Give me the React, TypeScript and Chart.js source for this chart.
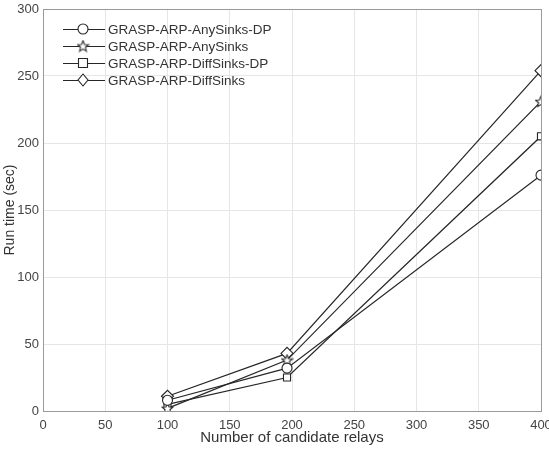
import React, { useEffect, useRef } from "react";
import { Chart, registerables } from "chart.js";

Chart.register(...registerables);

const relays = [100, 196, 400];
const anySinksDP = [8, 32, 176];
const anySinks = [2, 38, 231];
const diffSinksDP = [5, 25, 205];
const diffSinks = [11, 43, 254];
const seriesLabels = [
  "GRASP-ARP-AnySinks-DP",
  "GRASP-ARP-AnySinks",
  "GRASP-ARP-DiffSinks-DP",
  "GRASP-ARP-DiffSinks",
];
const xTicksMax = 400;
const yTicksMax = 300;

const FONT = "'Liberation Sans', Arial, sans-serif";
const LINE = "#262626";

function makeStar(size: number) {
  const c = document.createElement("canvas");
  c.width = size;
  c.height = size;
  const ctx = c.getContext("2d")!;
  const cx = size / 2;
  const cy = size / 2 + 0.5;
  const R = size / 2 - 0.8;
  const r = R * 0.45;
  ctx.beginPath();
  for (let i = 0; i < 10; i++) {
    const a = -Math.PI / 2 + (i * Math.PI) / 5;
    const rr = i % 2 === 0 ? R : r;
    const px = cx + rr * Math.cos(a);
    const py = cy + rr * Math.sin(a);
    if (i === 0) ctx.moveTo(px, py);
    else ctx.lineTo(px, py);
  }
  ctx.closePath();
  ctx.fillStyle = "#fff";
  ctx.fill();
  ctx.strokeStyle = LINE;
  ctx.lineWidth = 1.1;
  ctx.stroke();
  return c;
}

export default function App() {
  const ref = useRef<HTMLCanvasElement | null>(null);
  useEffect(() => {
    if (!ref.current) return;
    const star = makeStar(13);
    const styles: any[] = ["circle", star, "rect", "rectRot"];
    const values = [anySinksDP, anySinks, diffSinksDP, diffSinks];

    const framePlugin = {
      id: "frame",
      beforeDatasetsDraw(chart: any) {
        const { ctx, chartArea: a } = chart;
        ctx.save();
        ctx.strokeStyle = "#9a9a9a";
        ctx.lineWidth = 1;
        ctx.strokeRect(a.left + 0.5, a.top + 0.5, a.right - a.left, a.bottom - a.top);
        ctx.restore();
      },
    };

    const legendPlugin = {
      id: "inLegend",
      afterDraw(chart: any) {
        const { ctx } = chart;
        ctx.save();
        chart.data.datasets.forEach((ds: any, i: number) => {
          const y = 29 + i * 17;
          ctx.strokeStyle = LINE;
          ctx.lineWidth = 1.1;
          ctx.beginPath();
          ctx.moveTo(63, y + 0.5);
          ctx.lineTo(105, y + 0.5);
          ctx.stroke();
          const mx = 83;
          const st = styles[i];
          ctx.fillStyle = "#fff";
          ctx.beginPath();
          if (st === "circle") {
            ctx.arc(mx, y, 5, 0, Math.PI * 2);
            ctx.fill();
            ctx.stroke();
          } else if (st === "rect") {
            ctx.rect(mx - 4.5, y - 4.5, 9, 9);
            ctx.fill();
            ctx.stroke();
          } else if (st === "rectRot") {
            ctx.moveTo(mx, y - 6);
            ctx.lineTo(mx + 5, y);
            ctx.lineTo(mx, y + 6);
            ctx.lineTo(mx - 5, y);
            ctx.closePath();
            ctx.fill();
            ctx.stroke();
          } else {
            ctx.drawImage(st, mx - st.width / 2, y - st.height / 2);
          }
          ctx.fillStyle = "#333";
          ctx.font = `13.5px ${FONT}`;
          ctx.textBaseline = "middle";
          ctx.textAlign = "left";
          ctx.fillText(ds.label, 108, y + 1);
        });
        ctx.restore();
      },
    };

    const chart = new Chart(ref.current, {
      type: "line",
      data: {
        datasets: seriesLabels.map((label, i) => ({
          label,
          data: relays.map((x, j) => ({ x, y: values[i][j] })),
          borderColor: LINE,
          borderWidth: 1.2,
          backgroundColor: "#fff",
          pointStyle: styles[i],
          pointRadius: i === 3 ? 6 : 5,
          pointBorderColor: LINE,
          pointBackgroundColor: "#fff",
          pointBorderWidth: 1.1,
          tension: 0,
        })),
      },
      options: {
        animation: false,
        responsive: false,
        layout: { padding: { top: 9, right: 8, left: 0, bottom: 0 }, autoPadding: false } as any,
        plugins: { legend: { display: false }, tooltip: { enabled: false } },
        scales: {
          x: {
            type: "linear",
            min: 0,
            max: xTicksMax,
            ticks: { stepSize: 50, color: "#444", font: { family: FONT, size: 13 }, padding: 7, maxRotation: 0 },
            grid: { color: "#e6e6e6", drawTicks: false },
            border: { color: "#9a9a9a" },
            title: { display: true, text: "Number of candidate relays", color: "#333", font: { family: FONT, size: 15 }, padding: { top: 0, bottom: 6 } },
            afterFit: (s: any) => { s.height = 42; s.paddingLeft = 0; s.paddingRight = 0; },
          },
          y: {
            min: 0,
            max: yTicksMax,
            ticks: { stepSize: 50, color: "#444", font: { family: FONT, size: 13 }, padding: 4 },
            grid: { color: "#e6e6e6", drawTicks: false },
            border: { color: "#9a9a9a" },
            title: { display: true, text: "Run time (sec)", color: "#333", font: { family: FONT, size: 14 }, padding: { top: 2, bottom: 0 } },
            afterFit: (s: any) => { s.width = 43; s.paddingTop = 0; s.paddingBottom = 0; },
          },
        },
      },
      plugins: [framePlugin, legendPlugin],
    });
    return () => chart.destroy();
  }, []);

  return (
    <div style={{ position: "fixed", left: 0, top: 0, width: 549, height: 453, background: "#fff" }}>
      <canvas ref={ref} width={549} height={453} style={{ display: "block" }} />
    </div>
  );
}
